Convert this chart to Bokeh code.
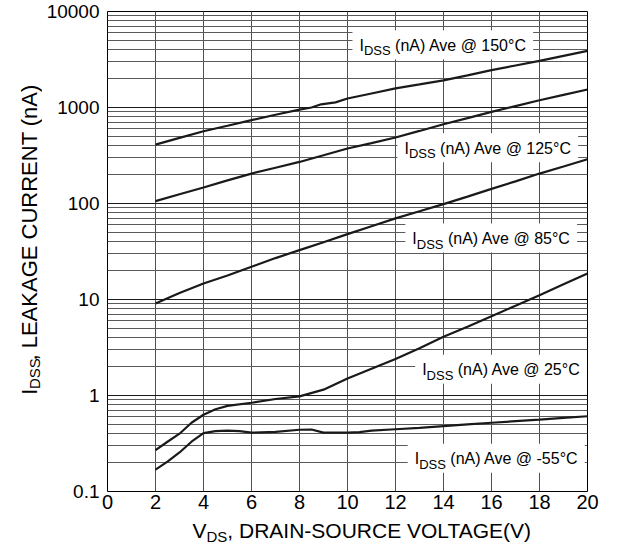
import math
from bokeh.plotting import figure
from bokeh.layouts import column, row
from bokeh.models import Range1d, FixedTicker, Label, CustomJSTickFormatter
from bokeh.core.properties import value
from bokeh.embed import file_html
from bokeh.resources import INLINE

# ---------------- data ----------------
x_ticks = [0, 2, 4, 6, 8, 10, 12, 14, 16, 18, 20]
y_ticks = [0.1, 1, 10, 100, 1000, 10000]
y_tick_labels = ["0.1", "1", "10", "100", "1000", "10000"]

x_150 = [2, 3, 4, 5, 6, 7, 8, 8.5, 8.9, 9.5, 10, 11, 12, 13, 14, 15, 16, 17, 18, 19, 20]
i_150 = [411, 483, 566, 645, 738, 840, 950, 1000, 1080, 1130, 1240, 1400, 1580, 1740,
         1920, 2160, 2450, 2740, 3060, 3450, 3890]

x_125 = [2, 3, 4, 5, 6, 7, 8, 9, 10, 11, 12, 13, 14, 15, 16, 17, 18, 19, 20]
i_125 = [106, 125, 147, 174, 205, 236, 271, 318, 374, 425, 487, 570, 670, 775, 899,
         1035, 1190, 1355, 1540]

x_85 = [2, 3, 4, 5, 6, 7, 8, 9, 10, 11, 12, 13, 14, 15, 16, 17, 18, 19, 20]
i_85 = [9.1, 11.7, 14.7, 17.8, 21.9, 27, 32.7, 39.5, 48, 58, 70, 83, 98.5, 118, 142,
        170, 205, 243, 289]

x_25 = [2, 2.5, 3, 3.5, 4, 4.5, 5, 6, 7, 8, 9, 10, 11, 12, 13, 14, 15, 16, 17, 18, 19, 20]
i_25 = [0.27, 0.33, 0.40, 0.52, 0.63, 0.72, 0.78, 0.84, 0.92, 0.98, 1.15, 1.50, 1.9,
        2.4, 3.1, 4.1, 5.2, 6.7, 8.6, 11.1, 14.4, 18.7]

x_m55 = [2, 2.5, 3, 3.5, 4, 4.5, 5, 5.5, 6, 7, 8, 8.5, 9, 10, 10.5, 11, 12, 13, 14, 15,
         16, 17, 18, 19, 20]
i_m55 = [0.169, 0.205, 0.255, 0.33, 0.405, 0.425, 0.43, 0.425, 0.41, 0.418, 0.44, 0.442,
         0.41, 0.41, 0.415, 0.43, 0.445, 0.46, 0.48, 0.50, 0.52, 0.54, 0.56, 0.585, 0.608]

series_x = [x_150, x_125, x_85, x_25, x_m55]
series_y = [i_150, i_125, i_85, i_25, i_m55]

label_temps = ["150°C", "125°C", "85°C", "25°C", "-55°C"]
label_x = [10.5, 12.375, 12.7, 13.11, 12.8]      # left edge of each label
label_y = [4457, 377, 43.2, 1.86, 0.22]          # vertical centre of each label

x_title = ("V", "DS", ", DRAIN-SOURCE VOLTAGE(V)")
y_title = ("I", "DSS", ", LEAKAGE CURRENT (nA)")

# ---------------- helpers ----------------
FONT = "Liberation Sans"
CAP = 0.358  # half cap height / em (Arial metrics)
W = {" ": 278, "(": 333, ")": 333, ",": 278, "-": 333, "@": 1015, "°": 400,
     "A": 667, "C": 722, "D": 722, "E": 667, "G": 778, "I": 278, "K": 667, "L": 556,
     "N": 722, "O": 778, "R": 722, "S": 667, "T": 611, "U": 722, "V": 667,
     "a": 556, "e": 556, "n": 556, "v": 500}


def tw(s, size):
    return sum(W.get(c, 556) for c in s) * size / 1000.0


def pieces(parts, size, sub_size, sub_shift):
    """(main, sub, rest) -> [(text, font size, advance, centre shift)], total width."""
    out, pos = [], 0.0
    sub_c = CAP * (size - sub_size) + sub_shift
    for txt, fs, shift in [(parts[0], size, 0), (parts[1], sub_size, sub_c),
                           (parts[2], size, 0)]:
        stripped = txt.lstrip(" ")
        pos += tw(txt[:len(txt) - len(stripped)], fs)
        out.append((stripped, fs, pos, shift))
        pos += tw(stripped, fs)
    return out, pos


# ---------------- layout sizes ----------------
FRAME_W, FRAME_H = 480, 480
YFIG_W = 42
AXIS_W = 65
BORDER_R, BORDER_T, BORDER_B = 25, 11, 27
MAIN_W = AXIS_W + FRAME_W + BORDER_R
MAIN_H = BORDER_T + FRAME_H + BORDER_B
XFIG_H = 28
X0, X1, Y0, Y1 = 0, 20, 0.1, 10000

# ---------------- main chart ----------------
p = figure(frame_width=FRAME_W, frame_height=FRAME_H, y_axis_type="log",
           x_range=Range1d(X0, X1), y_range=Range1d(Y0, Y1),
           output_backend="svg", toolbar_location=None,
           min_border_left=AXIS_W, min_border_right=BORDER_R,
           min_border_top=BORDER_T, min_border_bottom=BORDER_B,
           background_fill_color="white", border_fill_color="white")

p.outline_line_color = "black"
p.outline_line_width = 1

minor = [k * 10.0 ** d for d in range(-1, 4) for k in range(2, 10)]
p.yaxis.ticker = FixedTicker(ticks=y_ticks, minor_ticks=minor)
p.xaxis.ticker = FixedTicker(ticks=x_ticks)
p.xgrid.ticker = FixedTicker(ticks=x_ticks)
p.yaxis.formatter = CustomJSTickFormatter(
    args=dict(yt=y_ticks, yl=y_tick_labels),
    code="""
    let best = 0;
    for (let i = 0; i < yt.length; i++) {
        if (Math.abs(Math.log10(yt[i]) - Math.log10(tick)) <
            Math.abs(Math.log10(yt[best]) - Math.log10(tick))) best = i;
    }
    return yl[best];
    """)

for ax in (p.xaxis, p.yaxis):
    ax.axis_line_color = None
    ax.major_tick_line_color = None
    ax.minor_tick_line_color = None
    ax.major_tick_out = 0
    ax.major_tick_in = 0
    ax.minor_tick_out = 0
    ax.minor_tick_in = 0
    ax.major_label_text_font = FONT
    ax.major_label_text_color = "black"
p.yaxis.major_label_text_font_size = "19px"
p.xaxis.major_label_text_font_size = "20px"
p.yaxis.major_label_standoff = 8
p.xaxis.major_label_standoff = 3

p.xgrid.grid_line_color = "#505050"
p.xgrid.grid_line_width = 1
p.ygrid.grid_line_color = "#1a1a1a"
p.ygrid.grid_line_width = 1
p.ygrid.minor_grid_line_color = "#5a5a5a"
p.ygrid.minor_grid_line_width = 1

# white label boxes, computed from the label anchors
px_x = FRAME_W / (X1 - X0)
px_dec = FRAME_H / (math.log10(Y1) - math.log10(Y0))
MAIN, SUB, SUB_SHIFT = 16, 13, 4.5
b_l, b_r, b_b, b_t = [], [], [], []
for lx, ly, t in zip(label_x, label_y, label_temps):
    _, width = pieces(("I", "DSS", " (nA) Ave @ " + t), MAIN, SUB, SUB_SHIFT)
    b_l.append(lx - 7 / px_x)
    b_r.append(lx + (width + 6) / px_x)
    b_b.append(ly * 10 ** (-14 / px_dec))
    b_t.append(ly * 10 ** (15 / px_dec))
p.quad(left=b_l, right=b_r, bottom=b_b, top=b_t, fill_color="white", line_color=None)

for xs, ys in zip(series_x, series_y):
    p.line(xs, ys, line_color="#1a1a1a", line_width=2.2)

for lx, ly, t in zip(label_x, label_y, label_temps):
    parts, _ = pieces(("I", "DSS", " (nA) Ave @ " + t), MAIN, SUB, SUB_SHIFT)
    for txt, fs, adv, shift in parts:
        p.add_layout(Label(x=lx, y=ly, x_offset=adv, y_offset=-shift, text=txt,
                           text_font=FONT, text_font_size=f"{fs}px", text_color="black",
                           text_align="left", text_baseline="middle"))


def blank(w, h):
    f = figure(width=w, height=h, x_range=Range1d(0, w), y_range=Range1d(0, h),
               x_axis_location=None, y_axis_location=None, toolbar_location=None,
               output_backend="svg", min_border=0, outline_line_color=None,
               background_fill_color="white", border_fill_color="white")
    f.grid.visible = False
    return f


# ---------------- y-axis title (rotated, reads upwards) ----------------
yf = blank(YFIG_W, MAIN_H)
yparts, ylen = pieces(y_title, 22, 15, 2.5)
y_start = BORDER_B + FRAME_H / 2 - 6 - ylen / 2
y_centre = 28.5
for txt, fs, adv, shift in yparts:
    yf.text(x=[y_centre + shift], y=[y_start + adv], text=[txt], angle=math.pi / 2,
            text_font=value(FONT), text_font_size=f"{fs}px", text_color="black",
            text_align="left", text_baseline="middle")

# ---------------- x-axis title ----------------
TOTAL_W = YFIG_W + MAIN_W
xf = blank(TOTAL_W, XFIG_H)
xparts, xlen = pieces(x_title, 21, 15, 4)
x_start = YFIG_W + AXIS_W + 85
x_centre = XFIG_H - 12.3
for txt, fs, adv, shift in xparts:
    xf.text(x=[x_start + adv], y=[x_centre - shift], text=[txt],
            text_font=value(FONT), text_font_size=f"{fs}px", text_color="black",
            text_align="left", text_baseline="middle")

layout = column(row(yf, p, spacing=0), xf, spacing=0)
open("out.html", "w").write(file_html(layout, INLINE))
